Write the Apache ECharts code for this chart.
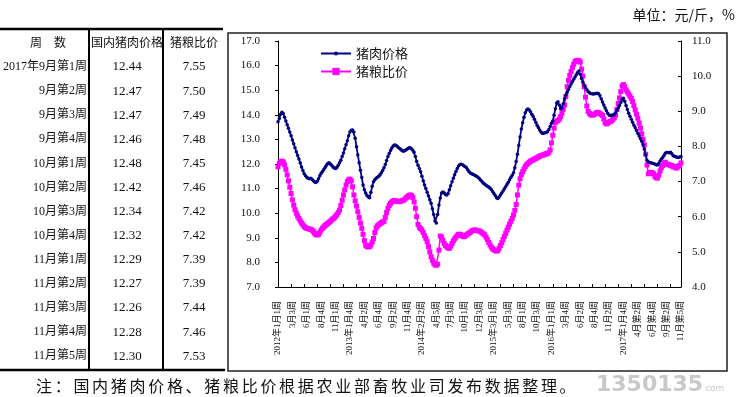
<!DOCTYPE html>
<html>
<head>
<meta charset="utf-8">
<script src="https://cdn.jsdelivr.net/npm/echarts/dist/echarts.min.js"></script>
<style>
    body { margin: 0; background: #fff; }
    #wrap { position: relative; width: 740px; height: 397px; overflow: hidden; }
    #main { width: 740px; height: 397px; }
    .note {
        position: absolute; left: 36px; top: 373px;
        font-family: 'Noto Sans CJK SC'; font-size: 16px; letter-spacing: 2.7px; color: #111;
    }
    .mark {
        position: absolute; left: 596px; top: 371px;
        font-family: 'DejaVu Sans'; font-weight: bold; font-size: 22px; color: #c9c9c9;
    }
    .mark span { font-size: 9px; font-weight: normal; margin-left: 2px; }
</style>
</head>
<body>
<div id="wrap">
    <div id="main"></div>
    <div class="note">注：国内猪肉价格、猪粮比价根据农业部畜牧业司发布数据整理。</div>
    <div class="mark">1350135<span>com</span></div>
</div>
<script>
// 周度数据：2012年1月第1周 ~ 2017年11月第5周，共309周
var porkPrice = [
    13.72, 13.85, 14.02, 14.10, 14.05, 13.90, 13.75, 13.60, 13.45, 13.30,
    13.15, 12.98, 12.82, 12.66, 12.50, 12.35, 12.20, 12.04, 11.88, 11.74,
    11.60, 11.52, 11.46, 11.42, 11.40, 11.42, 11.38, 11.32, 11.27, 11.25,
    11.30, 11.40, 11.52, 11.62, 11.70, 11.78, 11.86, 11.95, 12.02, 12.05,
    12.00, 11.95, 11.88, 11.84, 11.82, 11.86, 11.95, 12.05, 12.15, 12.30,
    12.45, 12.62, 12.78, 12.95, 13.15, 13.30, 13.37, 13.38, 13.30, 13.05,
    12.70, 12.37, 12.05, 11.75, 11.45, 11.15, 10.95, 10.82, 10.72, 10.66,
    10.63, 10.85, 11.10, 11.28, 11.36, 11.42, 11.46, 11.50, 11.56, 11.64,
    11.74, 11.85, 11.98, 12.14, 12.30, 12.43, 12.55, 12.65, 12.73, 12.77,
    12.76, 12.72, 12.67, 12.63, 12.58, 12.54, 12.52, 12.55, 12.58, 12.62,
    12.65, 12.66, 12.62, 12.56, 12.48, 12.30, 12.10, 11.95, 11.82, 11.68,
    11.50, 11.32, 11.15, 11.00, 10.85, 10.70, 10.55, 10.40, 10.18, 9.95,
    9.68, 9.60, 9.95, 10.33, 10.62, 10.82, 10.86, 10.82, 10.76, 10.74,
    10.80, 10.95, 11.12, 11.28, 11.42, 11.56, 11.70, 11.82, 11.92, 11.98,
    11.99, 11.97, 11.93, 11.90, 11.85, 11.77, 11.69, 11.63, 11.60, 11.58,
    11.55, 11.52, 11.49, 11.45, 11.40, 11.34, 11.28, 11.22, 11.18, 11.14,
    11.10, 11.06, 11.02, 10.96, 10.88, 10.80, 10.72, 10.63, 10.60, 10.66,
    10.74, 10.82, 10.90, 10.99, 11.08, 11.17, 11.26, 11.36, 11.45, 11.54,
    11.64, 11.85, 12.10, 12.40, 12.75, 13.10, 13.42, 13.68, 13.90, 14.08,
    14.20, 14.24, 14.20, 14.12, 14.02, 13.93, 13.82, 13.70, 13.58, 13.48,
    13.38, 13.30, 13.25, 13.25, 13.27, 13.29, 13.31, 13.40, 13.52, 13.66,
    13.75, 13.98, 14.25, 14.48, 14.53, 14.40, 14.25, 14.28, 14.45, 14.65,
    14.80, 14.92, 15.03, 15.14, 15.25, 15.35, 15.45, 15.54, 15.63, 15.72,
    15.78, 15.65, 15.48, 15.32, 15.20, 15.10, 15.02, 14.95, 14.90, 14.87,
    14.86, 14.85, 14.86, 14.87, 14.88, 14.86, 14.78, 14.65, 14.52, 14.40,
    14.28, 14.16, 14.06, 13.99, 13.97, 13.98, 13.99, 14.00, 14.08, 14.18,
    14.28, 14.38, 14.50, 14.62, 14.67, 14.55, 14.38, 14.22, 14.06, 13.94,
    13.82, 13.70, 13.58, 13.47, 13.36, 13.25, 13.14, 13.03, 12.92, 12.78,
    12.60, 12.38, 12.15, 12.08, 12.06, 12.05, 12.03, 12.02, 12.00, 11.97,
    11.96, 12.02, 12.12, 12.20, 12.26, 12.35, 12.44, 12.47, 12.47, 12.46,
    12.48, 12.42, 12.34, 12.32, 12.29, 12.27, 12.26, 12.28, 12.30
];
var hogGrainRatio = [
    7.42, 7.52, 7.57, 7.58, 7.56, 7.48, 7.35, 7.19, 7.02, 6.84,
    6.66, 6.48, 6.33, 6.20, 6.10, 6.02, 5.95, 5.88, 5.82, 5.77,
    5.72, 5.69, 5.67, 5.66, 5.65, 5.64, 5.62, 5.58, 5.53, 5.49,
    5.48, 5.50, 5.56, 5.62, 5.67, 5.71, 5.75, 5.78, 5.81, 5.84,
    5.87, 5.91, 5.94, 5.97, 6.01, 6.06, 6.12, 6.19, 6.32, 6.47,
    6.62, 6.76, 6.90, 7.00, 7.05, 7.07, 7.02, 6.85, 6.62, 6.45,
    6.30, 6.14, 5.98, 5.82, 5.67, 5.50, 5.32, 5.19, 5.15, 5.14,
    5.15, 5.20, 5.28, 5.38, 5.55, 5.68, 5.74, 5.77, 5.80, 5.83,
    5.85, 5.87, 5.98, 6.12, 6.24, 6.32, 6.38, 6.42, 6.45, 6.46,
    6.45, 6.44, 6.43, 6.43, 6.44, 6.46, 6.47, 6.50, 6.54, 6.57,
    6.60, 6.62, 6.60, 6.55, 6.42, 6.24, 6.00, 5.78, 5.70, 5.66,
    5.62, 5.55, 5.46, 5.38, 5.29, 5.15, 5.00, 4.86, 4.76, 4.68,
    4.63, 4.62, 4.65, 5.05, 5.45, 5.42, 5.33, 5.24, 5.18, 5.14,
    5.11, 5.10, 5.16, 5.24, 5.31, 5.37, 5.42, 5.46, 5.50, 5.50,
    5.48, 5.45, 5.43, 5.45, 5.48, 5.51, 5.53, 5.56, 5.59, 5.61,
    5.62, 5.62, 5.61, 5.60, 5.59, 5.57, 5.54, 5.51, 5.48, 5.42,
    5.35, 5.27, 5.20, 5.14, 5.09, 5.06, 5.04, 5.02, 5.04, 5.10,
    5.18, 5.26, 5.35, 5.44, 5.53, 5.62, 5.70, 5.79, 5.87, 5.95,
    6.05, 6.18, 6.35, 6.62, 6.90, 7.08, 7.20, 7.28, 7.36, 7.43,
    7.48, 7.52, 7.55, 7.58, 7.60, 7.62, 7.64, 7.66, 7.68, 7.70,
    7.72, 7.74, 7.75, 7.76, 7.78, 7.79, 7.80, 7.83, 7.90, 8.10,
    8.32, 8.52, 8.68, 8.72, 8.74, 8.78, 8.85, 8.95, 9.06, 9.18,
    9.42, 9.70, 9.88, 10.02, 10.13, 10.24, 10.34, 10.41, 10.44, 10.45,
    10.44, 10.40, 10.20, 10.00, 9.70, 9.40, 9.15, 9.00, 8.94, 8.90,
    8.89, 8.90, 8.92, 8.95, 8.97, 8.96, 8.94, 8.91, 8.88, 8.78,
    8.68, 8.64, 8.66, 8.69, 8.71, 8.73, 8.77, 8.82, 8.89, 9.05,
    9.22, 9.38, 9.56, 9.72, 9.76, 9.70, 9.61, 9.55, 9.49, 9.43,
    9.37, 9.28, 9.16, 9.04, 8.92, 8.80, 8.66, 8.52, 8.36, 8.20,
    8.04, 7.78, 7.47, 7.22, 7.24, 7.26, 7.25, 7.22, 7.15, 7.11,
    7.10, 7.18, 7.30, 7.40, 7.46, 7.52, 7.55, 7.50, 7.49, 7.48,
    7.45, 7.46, 7.42, 7.42, 7.39, 7.39, 7.44, 7.46, 7.53
];
// x轴标签，每11周一个
var tickLabels = [
    '2012年1月1周', '3月3周', '6月1周', '8月4周', '11月1周',
    '2013年1月4周', '4月2周', '6月4周', '9月2周', '11月4周',
    '2014年2月2周', '4月5周', '7月3周', '10月1周', '12月3周',
    '2015年3月1周', '5月3周', '8月1周', '10月3周',
    '2016年1月1周', '3月4周', '6月2周', '8月4周', '11月2周',
    '2017年1月4周', '4月第2周', '6月第4周', '9月第2周', '11月第5周'
];
var LABEL_STEP = 11;
// 左侧表格：最近13周
var tableWeeks = [
    '2017年9月第1周', '9月第2周', '9月第3周', '9月第4周',
    '10月第1周', '10月第2周', '10月第3周', '10月第4周',
    '11月第1周', '11月第2周', '11月第3周', '11月第4周', '11月第5周'
];
var tableHeader = ['周　数', '国内猪肉价格', '猪粮比价'];

var categories = porkPrice.map(function (v, i) {
    return i % LABEL_STEP === 0 ? tickLabels[i / LABEL_STEP] : '';
});

var SERIF = "'Liberation Serif','Noto Sans CJK SC',serif";
var SANS = "'Noto Sans CJK SC',sans-serif";

// 表格
var graphic = [];
graphic.push({ type: 'line', shape: { x1: 0, y1: 29, x2: 223, y2: 29 }, style: { stroke: '#000', lineWidth: 2.5 } });
graphic.push({ type: 'line', shape: { x1: 0, y1: 370, x2: 225, y2: 370 }, style: { stroke: '#000', lineWidth: 2.5 } });
graphic.push({ type: 'line', shape: { x1: 89, y1: 29, x2: 89, y2: 370 }, style: { stroke: '#000', lineWidth: 2 } });
graphic.push({ type: 'line', shape: { x1: 163, y1: 29, x2: 163, y2: 370 }, style: { stroke: '#000', lineWidth: 2 } });
var colX = [48, 127, 194];
tableHeader.forEach(function (t, c) {
    graphic.push({
        type: 'text', x: colX[c], y: 42,
        style: { text: t, fontSize: 12, fontFamily: SANS, fill: '#111', align: 'center', verticalAlign: 'middle' }
    });
});
var start = porkPrice.length - tableWeeks.length;
tableWeeks.forEach(function (w, r) {
    var y = 67 + r * 24.1;
    graphic.push({
        type: 'text', x: 87, y: y,
        style: { text: w, fontSize: 12, fontFamily: SERIF, fill: '#111', align: 'right', verticalAlign: 'middle' }
    });
    graphic.push({
        type: 'text', x: colX[1], y: y,
        style: { text: porkPrice[start + r].toFixed(2), fontSize: 13, fontFamily: SERIF, fill: '#111', align: 'center', verticalAlign: 'middle' }
    });
    graphic.push({
        type: 'text', x: colX[2], y: y,
        style: { text: hogGrainRatio[start + r].toFixed(2), fontSize: 13, fontFamily: SERIF, fill: '#111', align: 'center', verticalAlign: 'middle' }
    });
});
// 图表外框 & 单位
graphic.push({ type: 'rect', shape: { x: 228, y: 33, width: 499, height: 338 }, style: { fill: 'none', stroke: '#222', lineWidth: 1.5 } });
graphic.push({
    type: 'text', x: 735, y: 15,
    style: { text: '单位：元/斤，%', fontSize: 14, fontFamily: SANS, fill: '#111', align: 'right', verticalAlign: 'middle' }
});

var legendText = { fontSize: 13, fontFamily: SANS, color: '#111' };

var myChart = echarts.init(document.getElementById('main'));
var option = {
    backgroundColor: '#fff',
    animation: false,
    graphic: graphic,
    // 两个图例分开放，方便各自控制标记大小
    legend: [{
        data: ['猪肉价格'],
        left: 315, top: 42,
        itemWidth: 30, itemHeight: 5,
        textStyle: legendText
    }, {
        data: ['猪粮比价'],
        left: 315, top: 60,
        itemWidth: 30, itemHeight: 9,
        textStyle: legendText
    }],
    grid: { left: 278, right: 59, top: 41, bottom: 110 },
    xAxis: {
        type: 'category',
        data: categories,
        boundaryGap: false,
        axisLine: { lineStyle: { color: '#000', width: 1 } },
        axisTick: { interval: 9, inside: true, length: 3, lineStyle: { color: '#000' } },
        axisLabel: { interval: LABEL_STEP - 1, rotate: 90, margin: 14, fontSize: 9, fontFamily: SERIF, color: '#111' }
    },
    yAxis: [{
        type: 'value',
        min: 7, max: 17, interval: 1,
        axisLine: { show: true, lineStyle: { color: '#000' } },
        axisTick: { show: true, length: 3, lineStyle: { color: '#000' } },
        splitLine: { show: false },
        axisLabel: { margin: 18, fontSize: 11, fontFamily: SERIF, color: '#111', formatter: function (v) { return v.toFixed(1); } }
    }, {
        type: 'value',
        position: 'right',
        min: 4, max: 11, interval: 1,
        axisLine: { show: true, lineStyle: { color: '#000' } },
        axisTick: { show: true, inside: true, length: 3, lineStyle: { color: '#000' } },
        splitLine: { show: false },
        axisLabel: { margin: 11, fontSize: 11, fontFamily: SERIF, color: '#111', formatter: function (v) { return v.toFixed(1); } }
    }],
    series: [{
        name: '猪粮比价',
        type: 'line',
        yAxisIndex: 1,
        data: hogGrainRatio,
        symbol: 'rect',
        symbolSize: 5,
        showAllSymbol: true,
        lineStyle: { color: '#ff00ff', width: 1.5 },
        itemStyle: { color: '#ff00ff' },
        z: 2
    }, {
        name: '猪肉价格',
        type: 'line',
        yAxisIndex: 0,
        data: porkPrice,
        symbol: 'circle',
        symbolSize: 3.5,
        showAllSymbol: true,
        lineStyle: { color: '#000080', width: 1.8 },
        itemStyle: { color: '#000080' },
        z: 3
    }]
};
myChart.setOption(option);
</script>
</body>
</html>
